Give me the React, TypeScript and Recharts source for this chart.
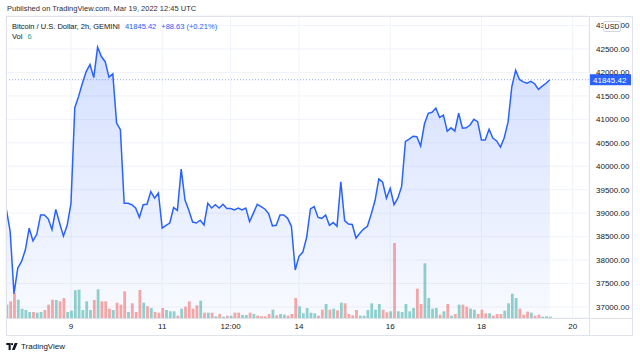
import React from 'react';
import {
  ComposedChart, Area, Bar, Cell, XAxis, YAxis, CartesianGrid, ReferenceLine,
} from 'recharts';

// 2h bars, first bar at Mar 7 14:00 UTC (hours relative to Mar 9 00:00)
const START_HOUR = -34;
const STEP_HOURS = 2;

const PRICES: number[] = [
  // Mar 7 14:00 .. Mar 8 22:00
  39080, 38610, 37280, 37830, 37970, 38220, 38680, 38410, 38550, 38960, 38960, 38880, 38650, 39080, 38790, 38510, 38740,
  // Mar 9 00:00 .. Mar 10 14:00
  39210, 41250, 41490, 41770, 42020, 42170, 41890, 42540, 42340, 42230, 41900, 41970, 40920, 40780, 39210, 39210, 39180, 39110, 38910, 39180,
  // Mar 10 16:00 .. Mar 13 16:00
  39190, 39460, 39320, 39430, 38680, 38740, 38790, 39120, 39060, 39940, 39280, 39060, 38810, 38790, 38850, 38750, 39210, 39110, 39180, 39110,
  39190, 39100, 39100, 39070, 39110, 39070, 39110, 38820, 39000, 39190, 39140, 39090, 38990, 38730, 38740, 38960, 38960,
  // Mar 13 18:00 .. Mar 16 18:00
  38890, 38720, 37790, 38080, 38170, 38480, 39090, 39140, 38910, 38890, 38960, 38740, 38800, 38720, 39670, 38840, 38770, 38760, 38470, 38570,
  38660, 38720, 38980, 39270, 39730, 39660, 39320, 39530, 39180, 39320, 39570, 40530, 40580, 40640, 40630, 40430, 40900,
  // Mar 16 20:00 .. Mar 19 12:00
  41130, 41150, 41240, 41040, 41090, 40750, 40820, 40750, 41130, 40810, 40820, 40880, 41000, 40950, 40560, 40560, 40790, 40600, 40540, 40410,
  40610, 40940, 41700, 42050, 41850, 41800, 41770, 41810, 41760, 41640, 41710, 41770, 41845.42,
];

const VOLUMES: number[] = [
  40, 50, 75, 55, 28, 24, 18, 18, 16, 18, 24, 40, 55, 54, 50, 60, 18, 22, 83, 85, 24, 50, 24, 54, 86, 50, 50, 28, 24, 46, 40, 80, 18, 44, 18, 84, 46,
  35, 30, 18, 16, 30, 24, 20, 20, 7, 28, 34, 50, 28, 38, 52, 16, 16, 16, 5, 12, 4, 7, 7, 16, 16, 9, 9, 16, 12, 7, 5, 5, 12, 25, 8, 12, 10,
  7, 12, 60, 35, 14, 30, 16, 14, 7, 25, 42, 25, 28, 23, 46, 44, 12, 8, 24, 7, 7, 24, 44, 25, 42, 25, 17, 20, 225, 20, 18, 42, 20, 30, 88, 42, 164,
  60, 28, 30, 10, 20, 42, 7, 12, 40, 40, 34, 28, 25, 12, 25, 14, 14, 7, 12, 12, 22, 44, 73, 60, 28, 10, 19, 16, 7, 10, 4, 5, 4,
];

// g = up bar (green), r = down bar (red)
const DIRECTIONS: string[] = [
  'grrggggrggrrrgrrggggggg', 'rgrrrgrrrgrrrg',
  'rgrrrgggrgrrrrgrgrgrgrgrrggrgrrrrgrgg',
  'rrrgggggrrgrgrgrrrrggggggrrgrgggggrrg',
  'gggrgrgrgrrggrrrgrrrggggrrrgrrggg',
].join('').split('');

const PRICE_TICKS = [37000, 37500, 38000, 38500, 39000, 39500, 40000, 40500, 41000, 41500, 42000, 42500, 43000];
const TIME_TICKS = [0, 48, 84, 120, 168, 216, 264];
const TIME_LABELS = ['9', '11', '12:00', '14', '16', '18', '20'];

const LAST_PRICE = 41845.42;
const CHANGE_TEXT = '+88.63 (+0.21%)';
const LAST_VOL = '6';

const GREEN = 'rgba(38,166,154,0.5)';
const RED = 'rgba(239,83,80,0.5)';
const BLUE = '#2962ff';
const TEXT = '#131722';
const FONT = '"Liberation Sans", Arial, sans-serif';

const data = PRICES.map((p, i) => ({
  t: START_HOUR + i * STEP_HOURS,
  price: p,
  vol: VOLUMES[i],
  up: DIRECTIONS[i] !== 'r',
}));

const PriceTag = (props: any) => {
  const vb = props.viewBox || {};
  const x = vb.x + vb.width + 1;
  const y = vb.y;
  return (
    <g>
      <rect x={x} y={y - 5.5} width={41} height={11} fill={BLUE} />
      <text x={x + 3} y={y} dy="0.35em" fontSize={8} fill="#fff" fontFamily={FONT}>
        {LAST_PRICE.toFixed(2)}
      </text>
    </g>
  );
};

export default function App() {
  return (
    <div style={{ position: 'absolute', left: 0, top: 0, width: 640, height: 358, background: '#fff', fontFamily: FONT, overflow: 'hidden' }}>
      <ComposedChart width={640} height={358} data={data} margin={{ top: 16, right: 7, bottom: 22, left: 6 }}>
        <defs>
          <linearGradient id="areaFill" x1="0" y1="0" x2="0" y2="1">
            <stop offset="0%" stopColor={BLUE} stopOpacity={0.34} />
            <stop offset="100%" stopColor={BLUE} stopOpacity={0.05} />
          </linearGradient>
        </defs>
        <CartesianGrid stroke="#f0f3fa" yAxisId="price" />
        <XAxis
          dataKey="t"
          type="number"
          domain={[-34.2, 272.6]}
          allowDataOverflow
          ticks={TIME_TICKS}
          tickFormatter={(v: number) => TIME_LABELS[TIME_TICKS.indexOf(v)] ?? ''}
          axisLine={false}
          tickLine={false}
          tickSize={0}
          tickMargin={5}
          height={18}
          tick={{ fontSize: 8, fill: TEXT, fontFamily: FONT }}
          interval={0}
        />
        <YAxis
          yAxisId="price"
          orientation="right"
          domain={[36765, 43204]}
          allowDataOverflow
          ticks={PRICE_TICKS}
          tickFormatter={(v: number) => v.toFixed(2)}
          axisLine={false}
          tickLine={false}
          tickSize={0}
          tickMargin={7}
          width={44}
          tick={{ fontSize: 8, fill: TEXT, fontFamily: FONT, textAnchor: 'start' }}
          interval={0}
        />
        <YAxis yAxisId="vol" hide domain={[0, 906]} />
        <Area
          yAxisId="price"
          dataKey="price"
          type="linear"
          stroke={BLUE}
          strokeWidth={1.5}
          fill="url(#areaFill)"
          dot={false}
          activeDot={false}
          isAnimationActive={false}
        />
        <Bar yAxisId="vol" dataKey="vol" barSize={2.8} isAnimationActive={false}>
          {data.map((d, i) => (
            <Cell key={i} fill={d.up ? GREEN : RED} />
          ))}
        </Bar>
        <ReferenceLine
          yAxisId="price"
          y={LAST_PRICE}
          stroke={BLUE}
          strokeOpacity={0.5}
          strokeDasharray="1 2"
          label={<PriceTag />}
        />
      </ComposedChart>

      {/* frame */}
      <div style={{ position: 'absolute', left: 6, top: 16, width: 627, height: 320, border: '1px solid #e0e3eb', boxSizing: 'border-box', pointerEvents: 'none' }} />
      <div style={{ position: 'absolute', left: 589, top: 16, width: 1, height: 320, background: '#e0e3eb' }} />
      <div style={{ position: 'absolute', left: 6, top: 318, width: 627, height: 1, background: '#e0e3eb' }} />

      {/* header */}
      <div style={{ position: 'absolute', left: 7, top: 4, fontSize: 7.5, lineHeight: '10px', color: '#2a2e39', whiteSpace: 'nowrap' }}>
        Published on TradingView.com, Mar 19, 2022 12:45 UTC
      </div>

      {/* legend */}
      <div style={{ position: 'absolute', left: 12, top: 22, fontSize: 7.5, lineHeight: '10px', color: TEXT, whiteSpace: 'nowrap' }}>
        Bitcoin / U.S. Dollar, 2h, GEMINI
        <span style={{ color: BLUE, marginLeft: 5 }}>{LAST_PRICE.toFixed(2)}</span>
        <span style={{ color: BLUE, marginLeft: 5 }}>{CHANGE_TEXT}</span>
      </div>
      <div style={{ position: 'absolute', left: 12, top: 32, fontSize: 7.5, lineHeight: '10px', color: TEXT, whiteSpace: 'nowrap' }}>
        Vol <span style={{ color: '#26a69a', marginLeft: 3 }}>{LAST_VOL}</span>
      </div>

      {/* USD badge */}
      <div style={{ position: 'absolute', left: 603, top: 21, width: 18, height: 11, border: '1px solid #d1d4dc', borderRadius: 2, background: '#fff', boxSizing: 'border-box', fontSize: 7, lineHeight: '9px', textAlign: 'center', color: TEXT }}>
        USD
      </div>

      {/* TradingView logo */}
      <svg style={{ position: 'absolute', left: 6, top: 343 }} width={12} height={7} viewBox="0 0 13 8">
        <path d="M0 0 H5 V8 H2.6 V2.4 H0 Z" fill={TEXT} />
        <circle cx={6.6} cy={1.3} r={1.3} fill={TEXT} />
        <path d="M9.6 0 H13 L9.6 8 H6.4 Z" fill={TEXT} />
      </svg>
      <div style={{ position: 'absolute', left: 21, top: 342, fontSize: 8, lineHeight: '10px', color: TEXT, whiteSpace: 'nowrap' }}>
        TradingView
      </div>
    </div>
  );
}
